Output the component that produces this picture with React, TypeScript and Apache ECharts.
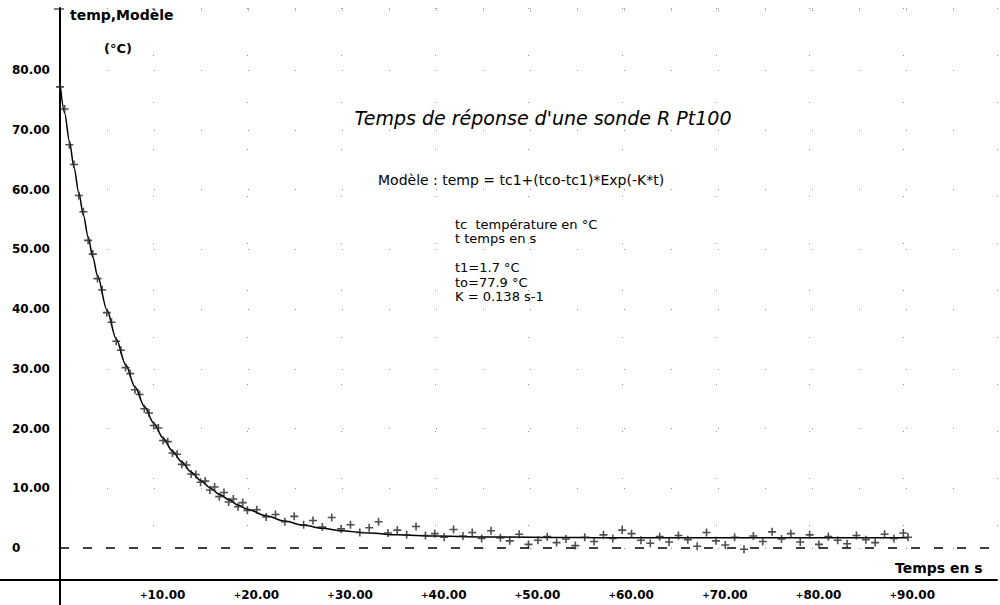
import React, { useEffect, useRef } from "react";
import * as echarts from "echarts";

// Measured points (t in s, temperature in °C)
const measTime = [
  0, 0.5, 1, 1.5, 2, 2.5, 3, 3.5, 4, 4.5,
  5, 5.5, 6, 6.5, 7, 7.5, 8, 8.5, 9, 9.5,
  10, 10.5, 11, 11.5, 12, 12.5, 13, 13.5, 14, 14.5,
  15, 15.5, 16, 16.5, 17, 17.5, 18, 18.5, 19, 19.5,
  20, 21, 22, 23, 24, 25, 26, 27, 28, 29,
  30, 31, 32, 33, 34, 35, 36, 37, 38, 39,
  40, 41, 42, 43, 44, 45, 46, 47, 48, 49,
  50, 51, 52, 53, 54, 55, 56, 57, 58, 59,
  60, 61, 62, 63, 64, 65, 66, 67, 68, 69,
  70, 71, 72, 73, 74, 75, 76, 77, 78, 79,
  80, 81, 82, 83, 84, 85, 86, 87, 88, 89,
  90, 90.5,
];
const measTemp = [
  77.2, 73.5, 67.5, 64.2, 59.0, 56.3, 51.5, 49.2, 45.1, 43.2,
  39.4, 37.8, 34.6, 33.1, 30.2, 29.2, 26.5, 25.7, 23.3, 22.6,
  20.5, 20.1, 18.0, 17.8, 15.9, 15.7, 14.0, 13.9, 12.4, 12.3,
  11.0, 11.2, 9.7, 10.2, 8.6, 9.3, 7.7, 8.2, 6.9, 7.6,
  6.3, 6.4, 5.2, 5.6, 4.4, 5.3, 3.9, 4.6, 3.5, 5.1,
  3.2, 3.9, 2.6, 3.4, 4.4, 2.5, 3.0, 2.2, 3.6, 2.1,
  2.4, 1.8, 3.1, 2.0, 2.6, 1.6, 2.9, 1.7, 1.2, 2.3,
  0.6, 1.3, 1.9, 0.9, 1.5, 0.4, 1.8, 1.1, 2.2, 1.6,
  3.0, 2.4, 1.3, 0.8, 1.9, 1.0, 2.1, 1.4, 0.3, 2.6,
  1.2, 0.5, 1.8, -0.2, 2.0, 1.1, 2.7, 1.5, 2.4, 1.0,
  2.2, 0.6, 1.9, 1.3, 0.7, 2.1, 1.4, 0.9, 2.3, 1.6,
  2.5, 1.8,
];

// Model curve
const modelTime = [
  0, 0.5, 1, 1.5, 2, 2.5, 3, 3.5, 4,
  5, 6, 7, 8, 9, 10, 11, 12, 13, 14, 15, 16, 17, 18, 19, 20,
  22, 24, 26, 28, 30,
  33, 36, 40, 45, 50, 55, 60,
  70, 80, 90.5,
];
const modelTemp = [
  77.9, 72.8, 68.1, 63.7, 59.5, 55.7, 52.1, 48.7, 45.6,
  39.9, 35.0, 30.7, 27.0, 23.7, 20.9, 18.4, 16.2, 14.4, 12.7, 11.3, 10.1, 9.0, 8.1, 7.2, 6.5,
  5.4, 4.5, 3.8, 3.3, 2.9,
  2.5, 2.2, 2.0, 1.85, 1.8, 1.75, 1.7,
  1.7, 1.7, 1.7,
];

const titleText = "Temps de réponse d'une sonde R Pt100";
const modelText = "Modèle : temp = tc1+(tco-tc1)*Exp(-K*t)";
const notes = [
  "tc  température en °C",
  "t temps en s",
  "",
  "t1=1.7 °C",
  "to=77.9 °C",
  "K = 0.138 s-1",
];

const FONT = "DejaVu Sans";

function txt(text: string, x: number, y: number, size: number, opts: any = {}) {
  return {
    type: "text",
    x,
    y,
    silent: true,
    style: {
      text,
      fill: "#000",
      fontFamily: FONT,
      fontSize: size,
      fontWeight: opts.weight || "normal",
      fontStyle: opts.style || "normal",
      align: opts.align || "left",
      textAlign: opts.align || "left",
      verticalAlign: "middle",
      textVerticalAlign: "middle",
    },
  };
}

export default function App() {
  const ref = useRef<HTMLDivElement>(null);
  useEffect(() => {
    const chart = echarts.init(ref.current!, null, { renderer: "svg" });
    const plus = "path://M4,0H6V4H10V6H6V10H4V6H0V4H4Z";
    chart.setOption({
      animation: false,
      backgroundColor: "#fff",
      grid: { left: 60, right: 0, top: 8, bottom: 57, containLabel: false },
      xAxis: {
        type: "value",
        min: 0,
        max: 100,
        interval: 10,
        offset: 32,
        axisLine: { show: true, onZero: false, lineStyle: { color: "#000", width: 2 } },
        axisTick: { show: false },
        splitLine: { show: true, lineStyle: { color: "#999", width: 1, type: [1, 46] } },
        axisLabel: {
          margin: 9,
          color: "#000",
          fontFamily: FONT,
          fontWeight: "bold",
          fontSize: 12,
          padding: [0, 0, 0, 18],
          formatter: (v: number) => (v <= 0 || v > 90 ? "" : "{p|+}" + v.toFixed(2)),
          rich: { p: { fontSize: 9, fontWeight: "bold", color: "#000", fontFamily: FONT } },
        },
      },
      yAxis: {
        type: "value",
        min: 0,
        max: 90.4,
        interval: 10,
        axisLine: { show: true, onZero: false, lineStyle: { color: "#000", width: 2 } },
        axisTick: { show: false },
        splitLine: { show: true, lineStyle: { color: "#999", width: 1, type: [1, 46] } },
        axisLabel: {
          align: "left",
          margin: 48,
          color: "#000",
          fontFamily: FONT,
          fontWeight: "bold",
          fontSize: 12,
          formatter: (v: number) => (v === 0 ? "0" : v > 80 ? "" : v.toFixed(2)),
        },
      },
      series: [
        {
          type: "line",
          data: modelTime.map((t, i) => [t, modelTemp[i]]),
          smooth: 0.3,
          smoothMonotone: "x",
          symbol: "none",
          showSymbol: false,
          clip: false,
          lineStyle: { color: "#000", width: 1.5 },
          markLine: {
            silent: true,
            symbol: ["none", "none"],
            label: { show: false },
            lineStyle: { color: "#000", width: 1.5, type: [9, 14] },
            data: [{ yAxis: 0 }],
          },
          z: 2,
        },
        {
          type: "scatter",
          data: measTime.map((t, i) => [t, measTemp[i]]),
          symbol: plus,
          symbolSize: 8,
          clip: false,
          itemStyle: { color: "#222" },
          z: 3,
        },
      ],
      graphic: [
        { type: "line", silent: true, shape: { x1: 60, y1: 548, x2: 60, y2: 605 }, style: { stroke: "#000", lineWidth: 2 } },
        { type: "line", silent: true, shape: { x1: 0, y1: 580, x2: 60, y2: 580 }, style: { stroke: "#000", lineWidth: 2 } },
        { type: "line", silent: true, shape: { x1: 54, y1: 9, x2: 64, y2: 9 }, style: { stroke: "#000", lineWidth: 1 } },
        txt("temp,Modèle", 70, 15, 14, { weight: "bold" }),
        txt("(°C)", 104, 48, 13, { weight: "bold" }),
        txt("Temps en s", 895, 568, 14, { weight: "bold" }),
        txt(titleText, 543, 118, 19, { style: "italic", align: "center" }),
        txt(modelText, 378, 180, 14),
        ...notes.map((n, i) => txt(n, 455, 224 + i * 14.5, 13)),
      ],
    });
    return () => chart.dispose();
  }, []);
  return (
    <div
      ref={ref}
      style={{ position: "absolute", left: 0, top: 0, width: 1000, height: 605, background: "#fff" }}
    />
  );
}
